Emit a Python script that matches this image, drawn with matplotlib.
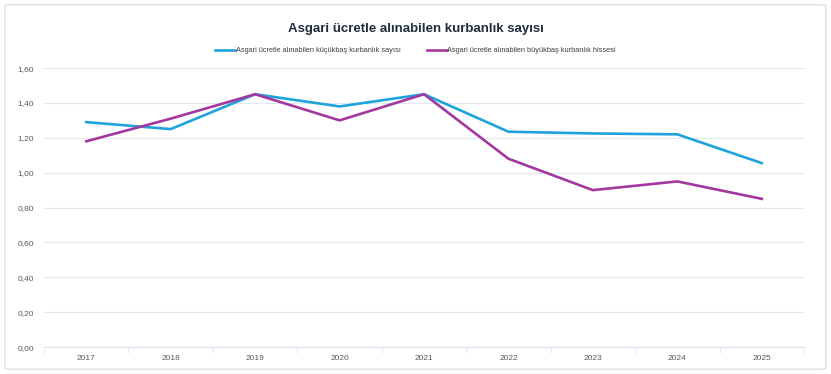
import numpy as np
import matplotlib.pyplot as plt
from matplotlib.patches import FancyBboxPatch

plt.rcParams['font.family'] = ['Liberation Sans', 'DejaVu Sans']

years = ['2017', '2018', '2019', '2020', '2021', '2022', '2023', '2024', '2025']
kucukbas = [1.29, 1.25, 1.45, 1.38, 1.45, 1.235, 1.225, 1.22, 1.055]
buyukbas = [1.18, 1.31, 1.45, 1.30, 1.45, 1.08, 0.90, 0.95, 0.85]

fig = plt.figure(figsize=(8.31, 3.74), dpi=100)
fig.patches.append(FancyBboxPatch((0.006, 0.013), 0.988, 0.974, boxstyle='round,pad=0,rounding_size=0.004',
                                  transform=fig.transFigure, fc='white', ec='#d9d9d9', lw=0.8, zorder=-10))
ax = fig.add_axes([0.053, 0.072, 0.9145, 0.746])
ax.patch.set_alpha(0)
x = np.arange(len(years))
ax.plot(x, kucukbas, color='#1fa3dc', lw=1.9, label='Asgari ücretle alınabilen küçükbaş kurbanlık sayısı')
ax.plot(x, buyukbas, color='#a2389f', lw=1.9, label='Asgari ücretle alınabilen büyükbaş kurbanlık hissesi')

ax.set_xlim(-0.5, len(years) - 0.5)
ax.set_ylim(0, 1.6)
ax.set_yticks(np.arange(0, 1.61, 0.2))
ax.set_yticklabels(['{:.2f}'.format(v).replace('.', ',') for v in np.arange(0, 1.61, 0.2)])
ax.set_xticks(x)
ax.set_xticklabels(years)
ax.set_xticks(np.arange(-0.5, len(years), 1), minor=True)
ax.tick_params(axis='x', which='major', length=0, labelsize=6, colors='#595959', pad=6)
ax.tick_params(axis='x', which='minor', length=4, color='#e3ebf4', width=0.8)
ax.tick_params(axis='y', length=0, labelsize=6, colors='#595959', pad=7)
ax.grid(True, axis='y', color='#dfe9f4', lw=0.8)
ax.set_axisbelow(True)
for s in ['top', 'right', 'left']:
    ax.spines[s].set_visible(False)
ax.spines['bottom'].set_color('#d9e4ef')

fig.text(0.5, 0.923, 'Asgari ücretle alınabilen kurbanlık sayısı', ha='center', va='center',
         fontsize=9.5, fontweight='bold', color='#1f2d3d')
fig.legend(loc='center', bbox_to_anchor=(0.5, 0.864), ncol=2, frameon=False, fontsize=5.3,
           handlelength=2.7, columnspacing=3.6, handletextpad=0.05, labelcolor='#404040')

plt.savefig('out.png', dpi=100)
